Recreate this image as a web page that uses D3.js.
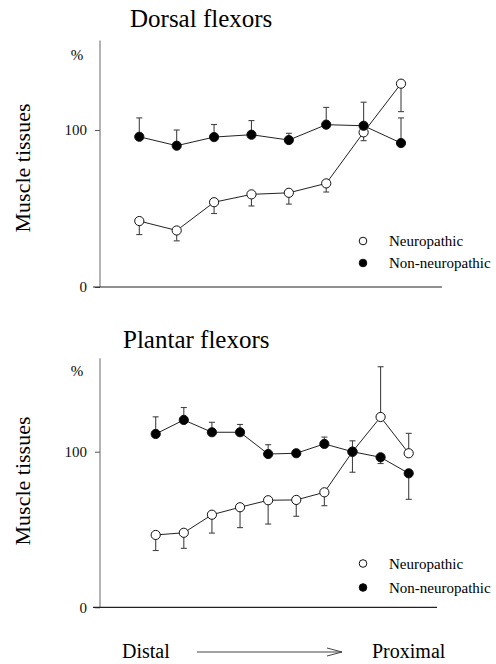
<!DOCTYPE html>
<html>
<head>
<meta charset="utf-8">
<script src="https://cdn.jsdelivr.net/npm/d3@7/dist/d3.min.js"></script>
<style>
  body { margin: 0; background: #fff; }
</style>
</head>
<body>
<div id="chart"></div>
<script>
// values (% of reference)
var dorsalNeuro = [42, 36, 54, 59, 60, 66, 98.5, 129.5];
var dorsalNeuroErr = [8.6, 6.6, 7.2, 7.4, 7.2, 5.5, 5.3, 17.8];
var dorsalNeuroDir = [-1, -1, -1, -1, -1, -1, -1, -1];
var dorsalNon = [95.7, 90, 95.5, 97, 93.6, 103.4, 102.7, 91.7];
var dorsalNonErr = [12, 10, 8, 9, 4.3, 11, 15, 16];
var dorsalNonDir = [1, 1, 1, 1, 1, 1, 1, 1];

var plantarNeuro = [46.5, 47.9, 59.5, 64.3, 68.8, 69, 73.9, 100, 122.3, 99];
var plantarNeuroErr = [10, 10, 11.8, 13.1, 15.3, 10.5, 8.6, 13.2, 32.3, 12.8];
var plantarNeuroDir = [-1, -1, -1, -1, -1, -1, -1, -1, 1, 1];
var plantarNon = [111.4, 120.4, 112.5, 112.5, 98.5, 99, 105, 100, 96.4, 86.1];
var plantarNonErr = [11, 8, 6.4, 5, 6, 1, 4.4, 7, 4, 16.7];
var plantarNonDir = [1, 1, 1, 1, 1, 1, 1, 1, -1, -1];

var yTicks = [0, 100];
var legendLabels = ["Neuropathic", "Non-neuropathic"];

var FONT = "'Liberation Serif', Tinos, 'Times New Roman', 'DejaVu Serif', serif";
var W = 496, H = 664;
var svg = d3.select("#chart").append("svg").attr("width", W).attr("height", H)
	.attr("font-family", FONT).style("display", "block");

function drawPanel(opt) {
	var g = svg.append("g");
	var y = d3.scaleLinear().domain([0, 100]).range([opt.y0, opt.y100]);
	var x = d3.scaleLinear().domain([0, opt.neuro.length - 1]).range(opt.xr);

	// title
	g.append("text").attr("x", opt.titleX).attr("y", opt.titleY)
		.attr("font-size", 25).text(opt.title);

	// y title
	g.append("text")
		.attr("transform", "translate(30," + opt.ylabY + ") rotate(-90)")
		.attr("text-anchor", "middle").attr("font-size", 22)
		.text("Muscle tissues");

	g.append("text").attr("x", 77).attr("y", y(opt.pctAt) + 5)
		.attr("text-anchor", "middle").attr("font-size", 15).text("%");

	// axes
	var ax = g.append("g").attr("transform", "translate(100,0)")
		.call(d3.axisLeft(y).tickValues(yTicks).tickSize(5).tickPadding(8));
	ax.attr("font-family", FONT);
	ax.select(".domain").remove();
	ax.selectAll("text").attr("font-size", 15).attr("fill", "#111");
	ax.selectAll("line").attr("stroke", "#555");

	g.append("line").attr("x1", 100).attr("x2", 100)
		.attr("y1", y(0)).attr("y2", y(opt.yTop))
		.attr("stroke", "#666").attr("stroke-width", 1);
	g.append("line").attr("x1", 93).attr("x2", opt.xEnd)
		.attr("y1", y(0)).attr("y2", y(0))
		.attr("stroke", "#222").attr("stroke-width", 1.2);

	var line = d3.line().x(function (d, i) { return x(i); }).y(function (d) { return y(d); });

	var series = [
		{ v: opt.neuro, e: opt.neuroErr, dir: opt.neuroDir, fill: "#fff" },
		{ v: opt.non, e: opt.nonErr, dir: opt.nonDir, fill: "#000" }
	];

	series.forEach(function (s) {
		g.append("path").datum(s.v).attr("d", line)
			.attr("fill", "none").attr("stroke", "#222").attr("stroke-width", 1);
	});

	// one-sided error bars
	series.forEach(function (s) {
		var eb = g.append("g").attr("stroke", "#444").attr("stroke-width", 1.1);
		s.v.forEach(function (v, i) {
			var end = y(v + s.dir[i] * s.e[i]);
			eb.append("line").attr("x1", x(i)).attr("x2", x(i)).attr("y1", y(v)).attr("y2", end);
			eb.append("line").attr("x1", x(i) - 3).attr("x2", x(i) + 3).attr("y1", end).attr("y2", end);
		});
	});

	series.forEach(function (s) {
		g.append("g").selectAll("circle").data(s.v).enter().append("circle")
			.attr("cx", function (d, i) { return x(i); })
			.attr("cy", function (d) { return y(d); })
			.attr("r", 4.6)
			.attr("fill", s.fill).attr("stroke", "#111").attr("stroke-width", 1);
	});

	// legend
	legendLabels.forEach(function (lab, i) {
		var ly = opt.legY + i * opt.legGap;
		g.append("circle").attr("cx", 363).attr("cy", ly).attr("r", 3.8)
			.attr("fill", i === 0 ? "#fff" : "#000").attr("stroke", "#111").attr("stroke-width", 1);
		g.append("text").attr("x", 389).attr("y", ly + 5).attr("font-size", 15).text(lab);
	});
}

drawPanel({
	title: "Dorsal flexors", titleX: 130, titleY: 27,
	y0: 287, y100: 130, yTop: 157, pctAt: 148, ylabY: 168,
	xr: [139.3, 401], xEnd: 442,
	neuro: dorsalNeuro, neuroErr: dorsalNeuroErr, neuroDir: dorsalNeuroDir,
	non: dorsalNon, nonErr: dorsalNonErr, nonDir: dorsalNonDir,
	legY: 241, legGap: 22
});

drawPanel({
	title: "Plantar flexors", titleX: 123, titleY: 348,
	y0: 607.3, y100: 451.7, yTop: 160, pctAt: 152, ylabY: 481,
	xr: [155.7, 408.7], xEnd: 437,
	neuro: plantarNeuro, neuroErr: plantarNeuroErr, neuroDir: plantarNeuroDir,
	non: plantarNon, nonErr: plantarNonErr, nonDir: plantarNonDir,
	legY: 563.5, legGap: 24
});

// distal -> proximal
svg.append("text").attr("x", 122).attr("y", 658).attr("font-size", 20).text("Distal");
svg.append("text").attr("x", 372).attr("y", 658).attr("font-size", 20).text("Proximal");
svg.append("line").attr("x1", 197).attr("x2", 342).attr("y1", 652).attr("y2", 652)
	.attr("stroke", "#444").attr("stroke-width", 1);
svg.append("path").attr("d", "M327,648 L342,652 L327,656")
	.attr("fill", "none").attr("stroke", "#444").attr("stroke-width", 1);
</script>
</body>
</html>
